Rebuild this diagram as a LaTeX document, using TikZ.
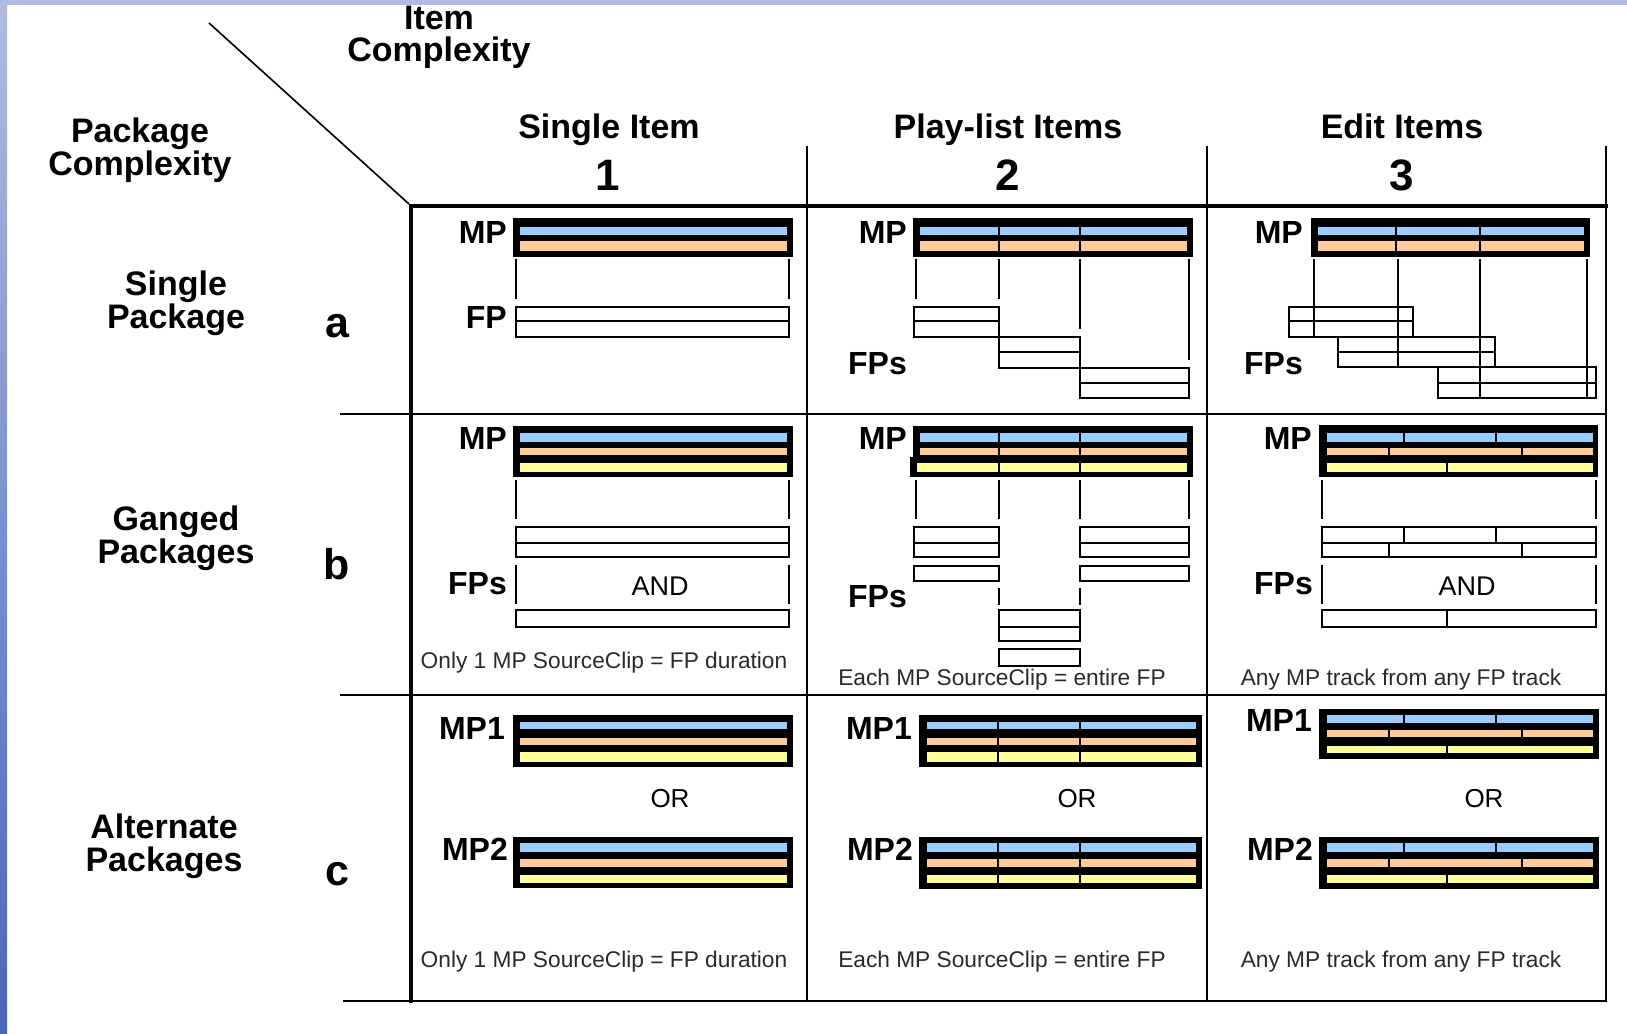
\documentclass[tikz,border=0pt]{standalone}
\usepackage{fontspec}
\setmainfont{Liberation Sans}
\definecolor{mpblue}{HTML}{99CCFF}
\definecolor{mporange}{HTML}{FFCC99}
\definecolor{mpyellow}{HTML}{FFFF99}
\definecolor{striptop}{HTML}{AFBCE0}
\definecolor{stripbot}{HTML}{4A66B8}
\definecolor{smalltxt}{HTML}{2A2A2A}
\tikzset{
  trk/.style={draw=black, line width=1.3pt},
  tickl/.style={draw=black, line width=1.5pt},
  bandl/.style={draw=black, line width=0.7pt},
  divl/.style={draw=black, line width=1.3pt},
  grid/.style={draw=black, line width=1.5pt},
  thick4/.style={draw=black, line width=4pt},
  lab/.style={font=\bfseries\fontsize{34}{36}\selectfont, inner sep=0pt},
  numl/.style={font=\bfseries\fontsize{44}{46}\selectfont, inner sep=0pt, anchor=base},
  rowl/.style={font=\bfseries\fontsize{43}{46}\selectfont, inner sep=0pt, anchor=base},
  mpl/.style={font=\bfseries\fontsize{32}{34}\selectfont, inner sep=0pt, anchor=base east},
  andl/.style={font=\fontsize{27}{29}\selectfont, inner sep=0pt, anchor=base},
  note/.style={font=\fontsize{22.7}{24}\selectfont, text=smalltxt, inner sep=0pt, anchor=base}
}
\newcommand\bnd[5]{\filldraw[bandl, fill=#1] (#2,#3) rectangle (#4,#5);}
\newcommand\dv[3]{\draw[divl] (#1,#2) -- (#1,#3);}
\newcommand\tk[3]{\draw[tickl] (#1,#2) -- (#1,#3);}
\newcommand\pairbox[5]{\draw[trk] (#1,#2) rectangle (#3,#4); \draw[trk] (#1,#5) -- (#3,#5);}
\begin{document}
\begin{tikzpicture}[x=1pt,y=-1pt]
\useasboundingbox (0,0) rectangle (1627,1033);
\fill[white] (0,0) rectangle (1627,1033);

% ---------- headers ----------
\node[lab, anchor=base] (ic1) at (439,30) {Item};
\node[lab, anchor=base] (ic2) at (439,62) {Complexity};
\node[lab, anchor=base] (pc1) at (140,142) {Package};
\node[lab, anchor=base] (pc2) at (140,175) {Complexity};
\draw[line width=1.6pt] (209,23) -- (409,204);

\node[lab, anchor=base] (h1) at (609,138) {Single Item};
\node[numl] (n1) at (608,190) {1};
\node[lab, anchor=base] (h2) at (1008,138) {Play-list Items};
\node[numl] (n2) at (1008,190) {2};
\node[lab, anchor=base] (h3) at (1402,138) {Edit Items};
\node[numl] (n3) at (1402,190) {3};

\node[lab, anchor=base] (ra1) at (176,295) {Single};
\node[lab, anchor=base] (ra2) at (176,328) {Package};
\node[rowl] (ra) at (337,337) {a};
\node[lab, anchor=base] (rb1) at (176,530) {Ganged};
\node[lab, anchor=base] (rb2) at (176,563) {Packages};
\node[rowl] (rb) at (337,579) {b};
\node[lab, anchor=base] (rc1) at (164,838) {Alternate};
\node[lab, anchor=base] (rc2) at (164,871) {Packages};
\node[rowl] (rc) at (337,885) {c};

% ---------- grid ----------
\foreach \x in {807,1207,1606} \draw[grid] (\x,146) -- (\x,1001);
\draw[grid] (340,414) -- (1606,414);
\draw[grid] (340,695) -- (1606,695);
\draw[grid] (343,1001) -- (1607,1001);
\draw[thick4] (409,206) -- (1608,206);
\draw[thick4] (411,204) -- (411,1003);

% ================= ROW a =================
% col 1
\fill[black] (513,218) rectangle (793,257);
\bnd{mpblue}{519}{226}{787}{235}
\bnd{mporange}{519}{240}{787}{251}
\tk{516}{259}{299} \tk{789}{259}{299}
\pairbox{516}{307}{789}{337}{321}
\node[mpl] (a1mp) at (507,243) {MP};
\node[mpl] (a1fp) at (507,328) {FP};
% col 2
\fill[black] (913,218) rectangle (1193,257);
\bnd{mpblue}{919}{226}{1187}{235}
\bnd{mporange}{919}{240}{1187}{251}
\foreach \x in {999,1080} {\dv{\x}{226}{235} \dv{\x}{240}{251}}
\tk{916}{259}{299} \tk{999}{259}{299} \tk{1080}{259}{329} \tk{1189}{259}{360}
\pairbox{914}{307}{999}{337}{321}
\pairbox{999}{337}{1080}{368}{352}
\pairbox{1080}{368}{1189}{398}{383}
\node[mpl] (a2mp) at (907,243) {MP};
\node[mpl] (a2fp) at (907,374) {FPs};
% col 3
\fill[black] (1311,218) rectangle (1590,257);
\bnd{mpblue}{1317}{226}{1584}{235}
\bnd{mporange}{1317}{240}{1584}{251}
\foreach \x in {1396,1480} {\dv{\x}{226}{235} \dv{\x}{240}{251}}
\tk{1314}{259}{337} \tk{1398}{259}{367} \tk{1480}{259}{398} \tk{1587}{259}{398}
\pairbox{1289}{307}{1413}{337}{321}
\pairbox{1338}{337}{1495}{367}{352}
\pairbox{1438}{367}{1596}{398}{383}
\node[mpl] (a3mp) at (1303,243) {MP};
\node[mpl] (a3fp) at (1303,374) {FPs};

% ================= ROW b =================
% col 1
\fill[black] (513,426) rectangle (793,477);
\bnd{mpblue}{519}{432}{787}{442}
\bnd{mporange}{519}{447}{787}{455}
\bnd{mpyellow}{519}{462}{787}{472}
\tk{516}{480}{519} \tk{789}{480}{519}
\pairbox{516}{527}{789}{557}{543}
\tk{516}{565}{604} \tk{789}{565}{604}
\draw[trk] (516,610) rectangle (789,627);
\node[mpl] (b1mp) at (507,449) {MP};
\node[mpl] (b1fp) at (507,594) {FPs};
\node[andl] (b1and) at (660,595) {AND};
\node[note] (b1n) at (604,668) {Only 1 MP SourceClip = FP duration};
% col 2
\fill[black] (913,426) rectangle (1193,477);
\fill[black] (910,457) rectangle (920,477);
\bnd{mpblue}{919}{432}{1187}{442}
\bnd{mporange}{919}{447}{1187}{455}
\bnd{mpyellow}{916}{462}{1187}{472}
\foreach \x in {999,1080} {\dv{\x}{432}{442} \dv{\x}{447}{455} \dv{\x}{462}{472}}
\tk{916}{480}{519} \tk{999}{480}{519} \tk{1080}{480}{519} \tk{1189}{480}{519}
\pairbox{914}{527}{999}{557}{543}
\draw[trk] (914,566) rectangle (999,581);
\pairbox{1080}{527}{1189}{557}{543}
\draw[trk] (1080,566) rectangle (1189,581);
\tk{999}{588}{605} \tk{1080}{588}{605}
\pairbox{999}{610}{1080}{641}{627}
\draw[trk] (999,649) rectangle (1080,666);
\node[mpl] (b2mp) at (907,449) {MP};
\node[mpl] (b2fp) at (907,607) {FPs};
\node[note] (b2n) at (1002,685) {Each MP SourceClip = entire FP};
% col 3
\fill[black] (1319,425) rectangle (1598,477);
\bnd{mpblue}{1326}{432}{1593}{442}
\bnd{mporange}{1326}{447}{1593}{455}
\bnd{mpyellow}{1326}{462}{1593}{472}
\foreach \x in {1404,1496} \dv{\x}{432}{442};
\foreach \x in {1389,1522} \dv{\x}{447}{455};
\dv{1447}{462}{472}
\tk{1322}{480}{519} \tk{1596}{480}{519}
\pairbox{1322}{527}{1596}{557}{543}
\foreach \x in {1404,1496} \dv{\x}{527}{543};
\foreach \x in {1389,1522} \dv{\x}{543}{557};
\tk{1322}{565}{604} \tk{1596}{565}{604}
\draw[trk] (1322,610) rectangle (1596,627);
\dv{1447}{610}{627}
\node[mpl] (b3mp) at (1312,449) {MP};
\node[mpl] (b3fp) at (1313,594) {FPs};
\node[andl] (b3and) at (1467,595) {AND};
\node[note] (b3n) at (1401,685) {Any MP track from any FP track};

% ================= ROW c =================
% col 1
\fill[black] (513,715) rectangle (793,767);
\bnd{mpblue}{519}{721}{787}{729}
\bnd{mporange}{519}{737}{787}{745}
\bnd{mpyellow}{519}{751}{787}{762}
\fill[black] (513,837) rectangle (793,888);
\bnd{mpblue}{519}{842}{787}{852}
\bnd{mporange}{519}{858}{787}{867}
\bnd{mpyellow}{519}{874}{787}{883}
\node[mpl] (c1mp1) at (505,739) {MP1};
\node[mpl] (c1mp2) at (508,860) {MP2};
\node[andl, font=\fontsize{26}{28}\selectfont] (c1or) at (670,807) {OR};
\node[note] (c1n) at (604,967) {Only 1 MP SourceClip = FP duration};
% col 2
\fill[black] (919,715) rectangle (1202,767);
\bnd{mpblue}{926}{721}{1196}{729}
\bnd{mporange}{926}{737}{1196}{745}
\bnd{mpyellow}{926}{751}{1196}{762}
\foreach \x in {998,1080} {\dv{\x}{721}{729} \dv{\x}{737}{745} \dv{\x}{751}{762}}
\fill[black] (919,837) rectangle (1202,889);
\bnd{mpblue}{926}{842}{1196}{852}
\bnd{mporange}{926}{858}{1196}{867}
\bnd{mpyellow}{926}{874}{1196}{883}
\foreach \x in {998,1080} {\dv{\x}{842}{852} \dv{\x}{858}{867} \dv{\x}{874}{883}}
\node[mpl] (c2mp1) at (912,739) {MP1};
\node[mpl] (c2mp2) at (913,860) {MP2};
\node[andl, font=\fontsize{26}{28}\selectfont] (c2or) at (1077,807) {OR};
\node[note] (c2n) at (1002,967) {Each MP SourceClip = entire FP};
% col 3
\fill[black] (1319,709) rectangle (1599,759);
\bnd{mpblue}{1326}{714}{1593}{723}
\bnd{mporange}{1326}{729}{1593}{737}
\bnd{mpyellow}{1326}{745}{1593}{753}
\foreach \x in {1404,1496} \dv{\x}{714}{723};
\foreach \x in {1389,1522} \dv{\x}{729}{737};
\dv{1447}{745}{753}
\fill[black] (1319,837) rectangle (1599,889);
\bnd{mpblue}{1326}{842}{1593}{852}
\bnd{mporange}{1326}{858}{1593}{867}
\bnd{mpyellow}{1326}{874}{1593}{883}
\foreach \x in {1404,1496} \dv{\x}{842}{852};
\foreach \x in {1389,1522} \dv{\x}{858}{867};
\dv{1447}{874}{883}
\node[mpl] (c3mp1) at (1312,731) {MP1};
\node[mpl] (c3mp2) at (1313,860) {MP2};
\node[andl, font=\fontsize{26}{28}\selectfont] (c3or) at (1484,807) {OR};
\node[note] (c3n) at (1401,967) {Any MP track from any FP track};

% ---------- frame strips ----------
\fill[striptop] (0,0) rectangle (1627,5.5);
\shade[top color=striptop, bottom color=stripbot] (0,0) rectangle (7,1033);
\end{tikzpicture}
\end{document}
